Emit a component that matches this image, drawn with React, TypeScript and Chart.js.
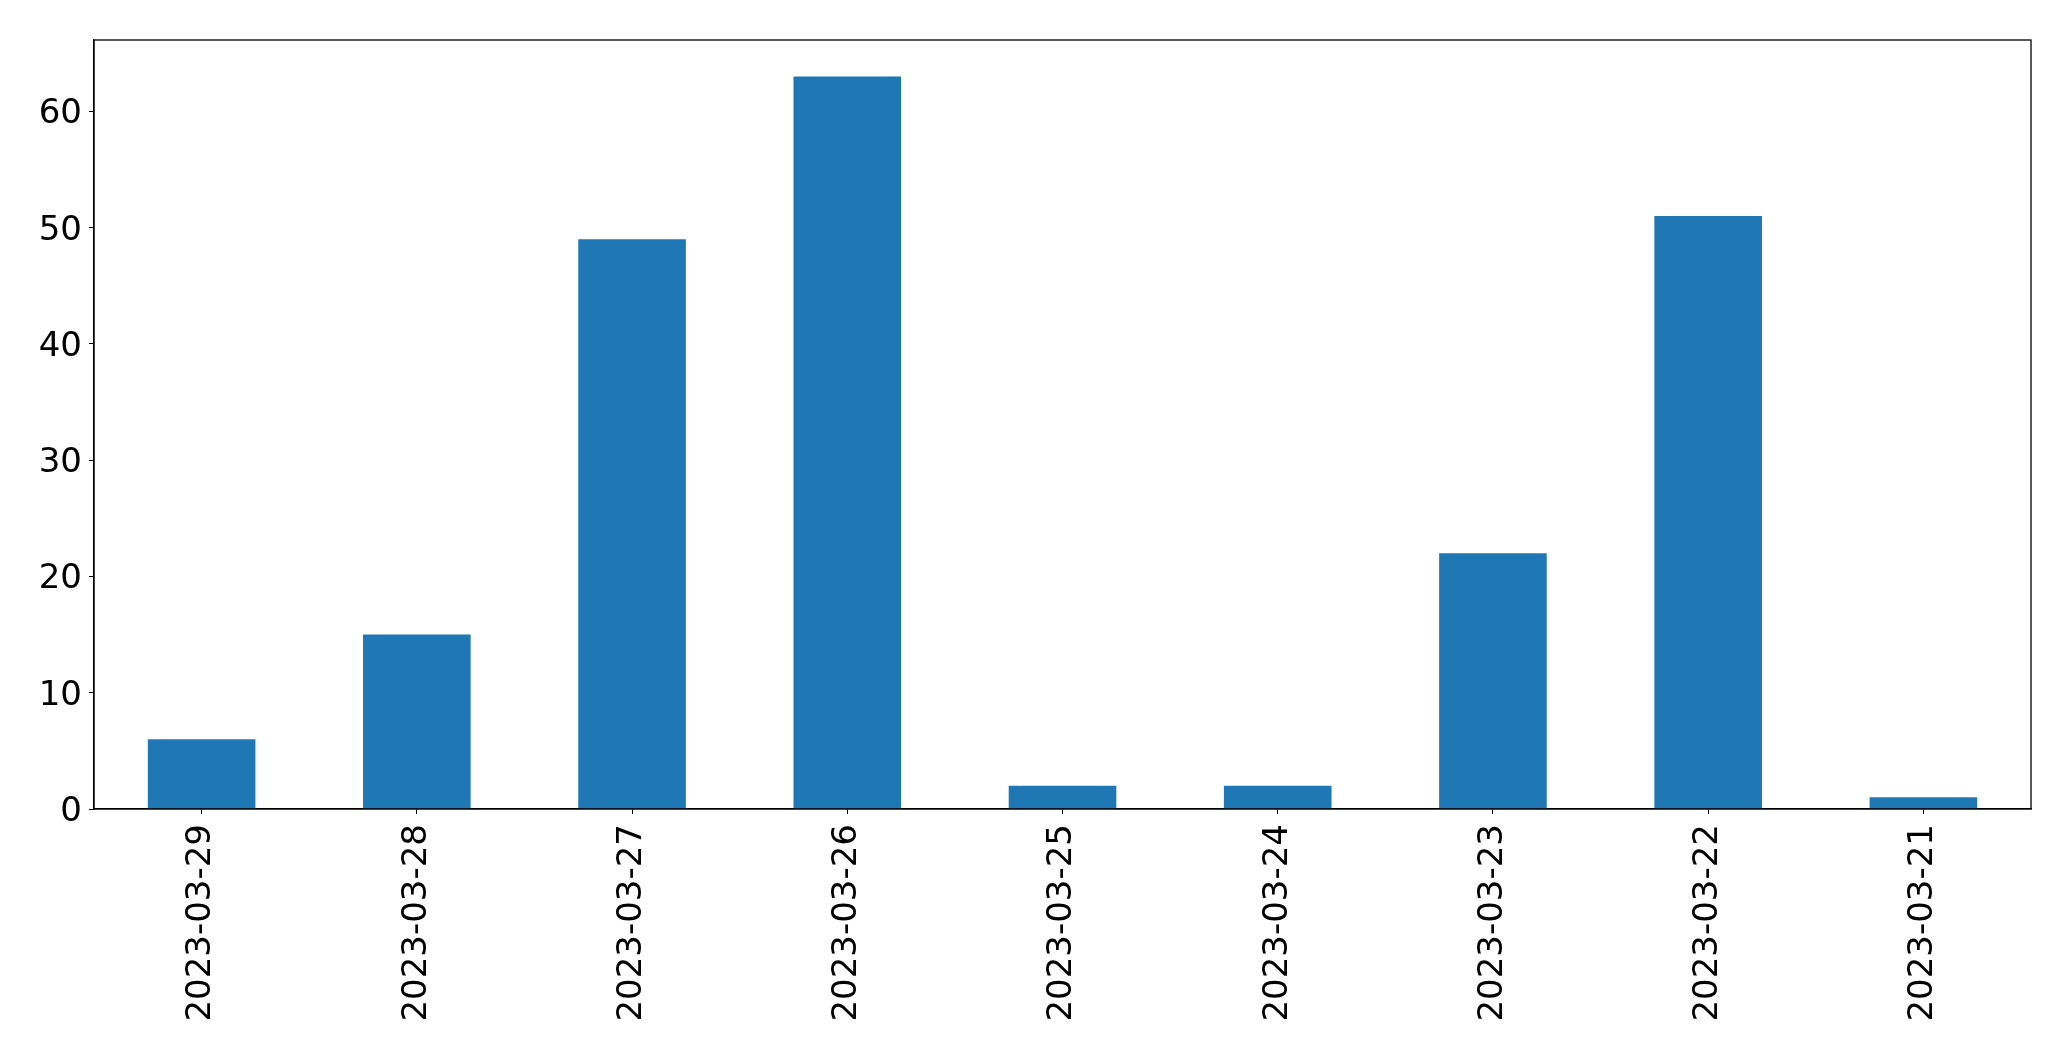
import React, { useEffect, useRef } from "react";
import { Chart, registerables } from "chart.js";

Chart.register(...registerables);

const categories = [
  "2023-03-29",
  "2023-03-28",
  "2023-03-27",
  "2023-03-26",
  "2023-03-25",
  "2023-03-24",
  "2023-03-23",
  "2023-03-22",
  "2023-03-21",
];
const values = [6, 15, 49, 63, 2, 2, 22, 51, 1];
const yTicks = [0, 10, 20, 30, 40, 50, 60];

const W = 2071;
const H = 1061;
const FONT = "'DejaVu Sans', sans-serif";

const frame = {
  id: "frame",
  afterDraw(chart: any) {
    const { ctx, chartArea } = chart;
    ctx.save();
    ctx.strokeStyle = "#000";
    ctx.lineWidth = 1.3;
    ctx.strokeRect(
      chartArea.left,
      chartArea.top,
      chartArea.right - chartArea.left,
      chartArea.bottom - chartArea.top
    );
    ctx.restore();
  },
};

export default function App() {
  const ref = useRef<HTMLCanvasElement | null>(null);
  useEffect(() => {
    document.body.style.margin = "0";
    const chart = new Chart(ref.current as HTMLCanvasElement, {
      type: "bar",
      data: {
        labels: categories,
        datasets: [
          {
            data: values,
            backgroundColor: "#1f77b4",
            categoryPercentage: 1,
            barPercentage: 0.5,
            borderWidth: 0,
          },
        ],
      },
      options: {
        animation: false,
        responsive: false,
        maintainAspectRatio: false,
        layout: { padding: { left: 0, top: 40, right: 40, bottom: 0 } },
        plugins: { legend: { display: false }, tooltip: { enabled: false } },
        scales: {
          x: {
            offset: true,
            grid: {
              display: true,
              drawOnChartArea: false,
              drawTicks: true,
              tickLength: 5,
              color: "#000",
              offset: false,
            },
            border: { display: true, color: "#000", width: 1.3 },
            ticks: {
              minRotation: 90,
              maxRotation: 90,
              autoSkip: false,
              padding: 10,
              color: "#000",
              font: { family: FONT, size: 34 },
            },
            afterFit(scale: any) {
              scale.height = 252;
            },
          },
          y: {
            min: 0,
            max: 66.15,
            grid: {
              display: true,
              drawOnChartArea: false,
              drawTicks: true,
              tickLength: 5,
              color: "#000",
            },
            border: { display: true, color: "#000", width: 1.3 },
            ticks: {
              padding: 7,
              labelOffset: 3,
              color: "#000",
              font: { family: FONT, size: 34 },
            },
            afterBuildTicks(scale: any) {
              scale.ticks = yTicks.map((v) => ({ value: v }));
            },
            afterFit(scale: any) {
              scale.width = 94;
            },
          },
        },
      },
      plugins: [frame],
    });
    return () => chart.destroy();
  }, []);
  return (
    <div style={{ position: "fixed", left: 0, top: 0, width: W, height: H, background: "#fff" }}>
      <canvas ref={ref} width={W} height={H} style={{ width: W, height: H }} />
    </div>
  );
}
